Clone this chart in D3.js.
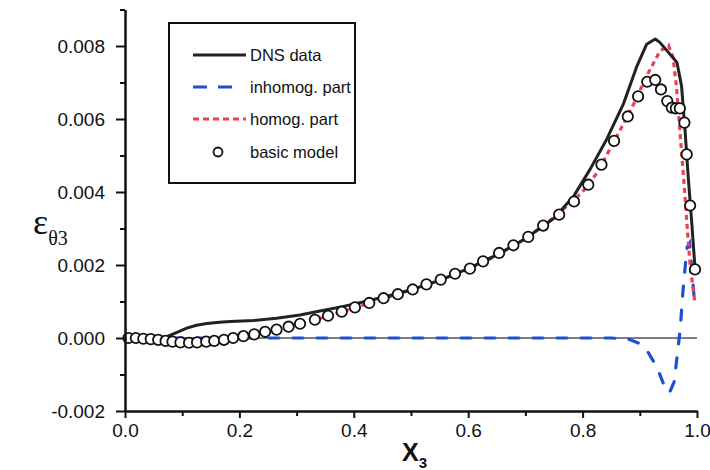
<!DOCTYPE html>
<html>
<head>
<meta charset="utf-8">
<script src="https://d3js.org/d3.v7.min.js"></script>
<style>
  body { margin: 0; background: #fff; }
</style>
</head>
<body>
<div id="plot_area"></div>
<script>
//chart data
const dnsX = [0, 0.03, 0.06, 0.075, 0.09, 0.108, 0.125, 0.143, 0.165, 0.184, 0.225, 0.265, 0.306, 0.341, 0.38, 0.42, 0.46, 0.5, 0.55, 0.6, 0.65, 0.7, 0.75, 0.785, 0.813, 0.842, 0.871, 0.895, 0.912, 0.927, 0.935, 0.953, 0.965, 0.973, 0.979, 0.985, 0.99, 0.997];
const dnsY = [0, 0, 0, 0.00005, 0.00015, 0.00027, 0.00035, 0.0004, 0.00043, 0.00045, 0.00048, 0.00054, 0.00063, 0.00074, 0.00086, 0.001, 0.00115, 0.00132, 0.00158, 0.0019, 0.00228, 0.00272, 0.00328, 0.0039, 0.00462, 0.00544, 0.0064, 0.00745, 0.00805, 0.00819, 0.0081, 0.00777, 0.00755, 0.0069, 0.00571, 0.00434, 0.00333, 0.00182];

const inhomX = [0, 0.85, 0.88, 0.9, 0.915, 0.93, 0.945, 0.952, 0.96, 0.966, 0.971, 0.975, 0.979, 0.983, 0.987, 0.991, 0.996];
const inhomY = [0, 0, -0.00003, -0.00015, -0.0004, -0.0008, -0.0014, -0.0015, -0.0012, -0.0004, 0.0003, 0.0012, 0.0019, 0.0025, 0.0026, 0.0019, 0.0009];

const homX = [0.2, 0.25, 0.3, 0.35, 0.4, 0.45, 0.5, 0.55, 0.6, 0.65, 0.7, 0.75, 0.8, 0.825, 0.857, 0.889, 0.915, 0.935, 0.95, 0.958, 0.964, 0.969, 0.974, 0.979, 0.983, 0.988, 0.9965];
const homY = [0.00003, 0.00018, 0.00036, 0.00058, 0.00082, 0.00107, 0.00131, 0.00158, 0.00188, 0.00226, 0.00272, 0.0033, 0.004, 0.00452, 0.00544, 0.0064, 0.00727, 0.00785, 0.00802, 0.0077, 0.0069, 0.0059, 0.0049, 0.0039, 0.003, 0.00199, 0.00095];

const modelX = [0.006, 0.019, 0.032, 0.045, 0.058, 0.071, 0.083, 0.097, 0.112, 0.126, 0.142, 0.156, 0.173, 0.189, 0.207, 0.226, 0.245, 0.265, 0.286, 0.306, 0.332, 0.355, 0.379, 0.402, 0.427, 0.452, 0.477, 0.503, 0.527, 0.552, 0.577, 0.603, 0.626, 0.654, 0.679, 0.705, 0.731, 0.759, 0.785, 0.81, 0.833, 0.855, 0.879, 0.897, 0.913, 0.927, 0.937, 0.948, 0.956, 0.963, 0.97, 0.978, 0.982, 0.988, 0.9965];
const modelY = [0, 0, -0.00002, -0.00003, -0.00005, -0.00008, -0.0001, -0.00012, -0.00013, -0.00012, -0.0001, -0.00008, -0.00005, 0, 0.00005, 0.0001, 0.00017, 0.00023, 0.00031, 0.00039, 0.0005, 0.00061, 0.00072, 0.00084, 0.00096, 0.00109, 0.0012, 0.00133, 0.00147, 0.0016, 0.00176, 0.0019, 0.0021, 0.00233, 0.00254, 0.00277, 0.00308, 0.00338, 0.00374, 0.0042, 0.00475, 0.0054, 0.00607, 0.00662, 0.00702, 0.00707, 0.00681, 0.00649, 0.00631, 0.00629, 0.00629, 0.0059, 0.00503, 0.00363, 0.00188];

const xTicks = [0, 0.2, 0.4, 0.6, 0.8, 1.0];
const xMinor = [0.1, 0.3, 0.5, 0.7, 0.9];
const yTicks = [-0.002, 0, 0.002, 0.004, 0.006, 0.008];
const yMinor = [-0.001, 0.001, 0.003, 0.005, 0.007, 0.009];

const legendLabels = ['DNS data', 'inhomog. part', 'homog. part', 'basic model'];

//set svg size
const w = 710;
const h = 470;
const padLeft = 125, padRight = 697, padTop = 9.5, padBottom = 411;

const blue = '#1d4fd6';
const red = '#ee3f55';

const xScale = d3.scaleLinear().domain([0, 1]).range([padLeft, padRight]);
const yScale = d3.scaleLinear().domain([-0.002, 0.009]).range([padBottom, padTop]);

const zip = (xs, ys) => xs.map((x, i) => [x, ys[i]]);
const line = d3.line()
  .x((d) => xScale(d[0]))
  .y((d) => yScale(d[1]));

const svg = d3.select('#plot_area')
  .append('svg')
  .attr('width', w)
  .attr('height', h)
  .style('font-family', 'Liberation Sans, Arial, sans-serif');

// zero line
svg.append('path')
   .datum([[0, 0], [1, 0]])
   .attr('d', line)
   .attr('stroke', '#555')
   .attr('stroke-width', 1.3)
   .attr('fill', 'none');

svg.append('path')
   .datum(zip(inhomX, inhomY))
   .attr('d', line)
   .attr('stroke', blue)
   .attr('stroke-width', 3.2)
   .attr('stroke-dasharray', '10,14')
   .attr('stroke-linecap', 'round')
   .attr('fill', 'none');

svg.append('path')
   .datum(zip(homX, homY))
   .attr('d', line)
   .attr('stroke', red)
   .attr('stroke-width', 3.2)
   .attr('stroke-dasharray', '5,4')
   .attr('fill', 'none');

svg.append('path')
   .datum(zip(dnsX, dnsY))
   .attr('d', line)
   .attr('stroke', '#222')
   .attr('stroke-width', 3)
   .attr('stroke-linejoin', 'round')
   .attr('fill', 'none');

svg.selectAll('circle.model')
   .data(zip(modelX, modelY))
   .enter()
   .append('circle')
   .attr('class', 'model')
   .attr('cx', (d) => xScale(d[0]))
   .attr('cy', (d) => yScale(d[1]))
   .attr('r', 5.2)
   .attr('fill', '#fff')
   .attr('stroke', '#111')
   .attr('stroke-width', 1.8);

// axes
const fmtY = (d) => d3.format('.3f')(d).replace('−', '-');

svg.append('g')
   .attr('transform', 'translate(0,' + padBottom + ')')
   .call(d3.axisBottom(xScale).tickValues(xTicks).tickFormat(d3.format('.1f')).tickSize(7).tickSizeOuter(0).tickPadding(6));
svg.append('g')
   .attr('transform', 'translate(0,' + padBottom + ')')
   .call(d3.axisBottom(xScale).tickValues(xMinor).tickFormat('').tickSize(5).tickSizeOuter(0));

svg.append('g')
   .attr('transform', 'translate(' + padLeft + ',0)')
   .call(d3.axisLeft(yScale).tickValues(yTicks).tickFormat(fmtY).tickSize(9).tickSizeOuter(0).tickPadding(11));
svg.append('g')
   .attr('transform', 'translate(' + padLeft + ',0)')
   .call(d3.axisLeft(yScale).tickValues(yMinor).tickFormat('').tickSize(5).tickSizeOuter(0));

svg.selectAll('.domain').attr('stroke', '#111').attr('stroke-width', 2);
svg.selectAll('.tick line').attr('stroke', '#111').attr('stroke-width', 2);
svg.selectAll('.tick text')
   .attr('fill', '#111')
   .style('font-family', 'Liberation Sans, Arial, sans-serif')
   .style('font-size', '19px');

// axis titles
const yTitle = svg.append('text')
   .attr('x', 33)
   .attr('y', 234)
   .attr('fill', '#111')
   .style('font-family', 'Liberation Serif, Times New Roman, serif');
yTitle.append('tspan').style('font-size', '36px').text('ε');
yTitle.append('tspan').attr('dy', 11).style('font-size', '20px').text('θ3');

const xTitle = svg.append('text')
   .attr('x', 402)
   .attr('y', 461)
   .attr('fill', '#111')
   .style('font-weight', 'bold');
xTitle.append('tspan').style('font-size', '25px').text('X');
xTitle.append('tspan').attr('dy', 7).style('font-size', '15px').text('3');

// legend
svg.append('rect')
   .attr('x', 169)
   .attr('y', 23)
   .attr('width', 186)
   .attr('height', 160)
   .attr('fill', '#fff')
   .attr('stroke', '#111')
   .attr('stroke-width', 2);

const legendY = [55, 87, 119, 152];
const legendStyles = [
  {stroke: '#222', dash: null, x2: 246},
  {stroke: blue, dash: '14,11', x2: 233},
  {stroke: red, dash: '6,4', x2: 246}
];
legendStyles.forEach(function (s, i) {
  svg.append('path')
     .datum([[193, legendY[i]], [s.x2, legendY[i]]])
     .attr('d', d3.line())
     .attr('stroke', s.stroke)
     .attr('stroke-width', 3.2)
     .attr('stroke-dasharray', s.dash)
     .attr('fill', 'none');
});
svg.append('circle')
   .attr('cx', 218)
   .attr('cy', legendY[3])
   .attr('r', 4.5)
   .attr('fill', '#fff')
   .attr('stroke', '#111')
   .attr('stroke-width', 1.8);

svg.selectAll('text.legend')
   .data(legendLabels)
   .enter()
   .append('text')
   .attr('class', 'legend')
   .attr('x', 250)
   .attr('y', (d, i) => legendY[i])
   .attr('dy', '0.35em')
   .attr('fill', '#111')
   .style('font-size', '16.5px')
   .text((d) => d);
</script>
</body>
</html>
